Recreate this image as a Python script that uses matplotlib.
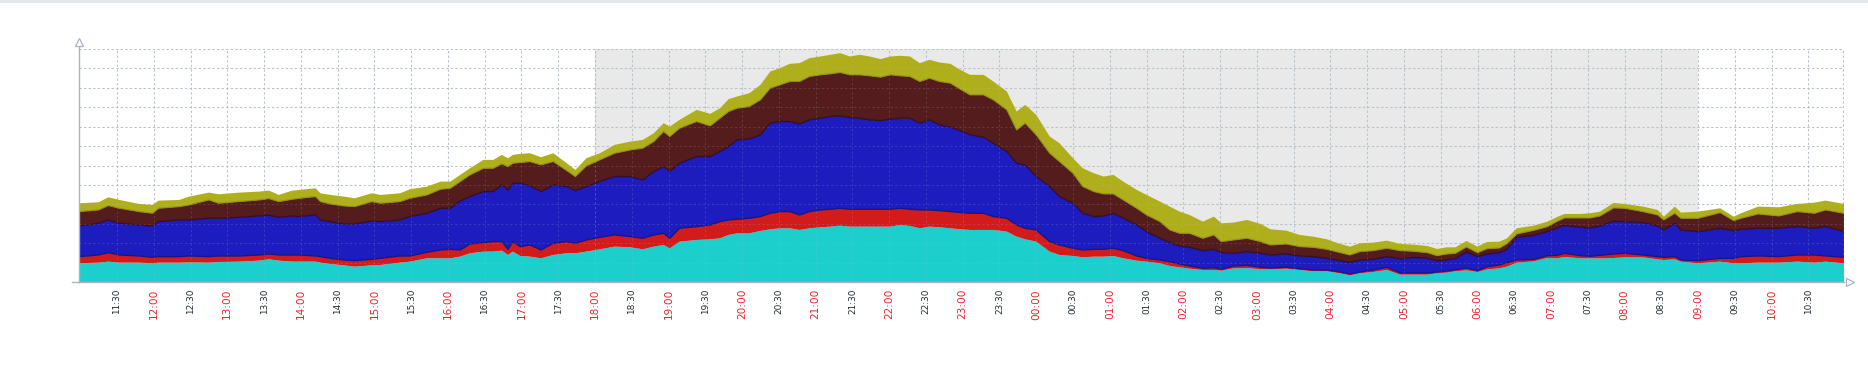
import numpy as np
import matplotlib
matplotlib.use("Agg")
import matplotlib.pyplot as plt
from matplotlib.patches import Rectangle

# time in minutes since midnight of day 1 (10:59 -> 10:59 next day)
minutes = [659, 675, 683, 692, 708, 719, 724, 741, 749, 765, 773, 790, 806, 814, 822, 833,
           839, 852, 856, 864, 875, 884, 898, 905, 921, 929, 943, 954, 962, 970, 978, 989,
           997, 1004, 1009, 1013, 1019, 1027, 1036, 1046, 1057, 1064, 1073, 1084, 1096, 1109,
           1119, 1128, 1136, 1141, 1149, 1163, 1174, 1182, 1189, 1196, 1206, 1215, 1223, 1231,
           1239, 1247, 1255, 1264, 1272, 1280, 1288, 1296, 1304, 1313, 1321, 1329, 1337, 1345,
           1353, 1361, 1370, 1378, 1386, 1397, 1405, 1416, 1424, 1431, 1440, 1451, 1459, 1470,
           1478, 1487, 1495, 1503, 1511, 1522, 1530, 1541, 1549, 1557, 1565, 1576, 1585, 1591,
           1601, 1612, 1623, 1631, 1644, 1655, 1666, 1677, 1688, 1696, 1704, 1715, 1726, 1737,
           1748, 1759, 1767, 1775, 1782, 1791, 1800, 1808, 1818, 1824, 1832, 1846, 1857, 1865,
           1871, 1884, 1892, 1900, 1911, 1920, 1935, 1947, 1952, 1961, 1966, 1980, 1998, 2009,
           2015, 2029, 2046, 2061, 2075, 2084, 2099]

cyan_vals = [56, 58, 61, 58, 58, 56, 58, 58, 59, 58, 60, 61, 64, 68, 64, 61,
             61, 61, 58, 54, 50, 46, 50, 51, 58, 61, 71, 71, 71, 76, 86, 91,
             91, 94, 81, 91, 78, 76, 71, 81, 86, 86, 91, 98, 106, 104,
             98, 106, 111, 101, 121, 126, 128, 131, 141, 146, 146, 153, 158, 161,
             161, 156, 161, 164, 166, 169, 166, 166, 166, 166, 166, 171, 168, 161,
             166, 164, 161, 158, 156, 156, 156, 151, 136, 128, 121, 91, 81, 78,
             74, 76, 76, 78, 71, 64, 61, 56, 48, 44, 40, 36, 36, 34,
             41, 42, 38, 38, 40, 36, 32, 32, 26, 20, 26, 30, 36, 22,
             22, 22, 26, 28, 32, 35, 30, 38, 41, 46, 58, 62, 72, 71,
             75, 71, 71, 71, 72, 74, 74, 68, 66, 68, 61, 56, 61, 56,
             56, 58, 58, 61, 58, 61, 56]

red_vals = [20, 23, 27, 23, 20, 18, 18, 18, 19, 18, 18, 17, 17, 16, 17, 20,
            20, 17, 18, 17, 16, 18, 18, 20, 20, 17, 18, 25, 27, 20, 28, 27,
            30, 27, 17, 30, 28, 35, 25, 35, 35, 30, 35, 36, 35, 32,
            33, 35, 35, 30, 40, 40, 43, 50, 45, 42, 45, 43, 48, 50,
            50, 45, 50, 52, 52, 52, 52, 52, 52, 52, 52, 50, 50, 55,
            50, 50, 50, 50, 50, 50, 40, 40, 35, 33, 35, 30, 30, 23,
            22, 22, 22, 23, 23, 14, 10, 10, 13, 10, 8, 5, 7, 4,
            7, 8, 6, 4, 4, 4, 4, 4, 4, 4, 4, 6, 8, 5,
            5, 5, 4, 5, 5, 7, 4, 8, 10, 12, 8, 6, 7, 9,
            11, 8, 6, 9, 12, 12, 7, 8, 8, 8, 5, 8, 10, 15,
            20, 20, 18, 20, 23, 17, 18]

blue_vals = [92, 95, 98, 95, 93, 94, 105, 110, 108, 115, 113, 116, 117, 116, 113, 117,
             115, 123, 110, 110, 108, 110, 115, 110, 108, 118, 117, 125, 123, 147, 142, 153,
             150, 170, 178, 175, 190, 177, 175, 175, 165, 158, 160, 167, 175, 180,
             175, 190, 200, 200, 195, 210, 205, 210, 220, 238, 238, 245, 270, 270,
             270, 273, 275, 275, 278, 277, 275, 273, 268, 266, 270, 270, 273, 260,
             270, 257, 253, 246, 235, 228, 220, 200, 185, 190, 160, 165, 145, 135,
             110, 98, 100, 105, 97, 93, 80, 65, 57, 54, 56, 53, 55, 50,
             38, 41, 42, 39, 40, 38, 40, 35, 34, 34, 36, 32, 32, 42,
             47, 44, 34, 33, 33, 48, 42, 38, 37, 40, 68, 72, 72, 82,
             84, 85, 85, 88, 98, 95, 97, 92, 82, 100, 90, 87, 90, 83,
             82, 83, 85, 85, 80, 88, 77]

brown_vals = [43, 40, 43, 45, 40, 38, 40, 40, 45, 55, 45, 47, 48, 50, 47, 50,
              55, 55, 55, 53, 54, 52, 58, 55, 55, 55, 55, 57, 60, 58, 65, 70,
              70, 63, 70, 60, 62, 73, 80, 70, 48, 42, 62, 65, 70, 80,
              95, 90, 105, 105, 105, 105, 92, 100, 105, 95, 97, 105, 105, 110,
              120, 127, 130, 130, 128, 130, 128, 130, 132, 130, 133, 127, 125, 125,
              125, 130, 132, 124, 120, 127, 130, 125, 100, 125, 125, 100, 105, 90,
              80, 75, 66, 58, 55, 50, 50, 50, 38, 38, 42, 37, 43, 33,
              40, 40, 35, 30, 30, 28, 28, 27, 24, 23, 25, 26, 25, 25,
              18, 17, 15, 18, 16, 15, 12, 16, 14, 17, 10, 15, 15, 20,
              22, 28, 30, 30, 40, 40, 33, 33, 30, 30, 35, 40, 47, 30,
              33, 43, 37, 45, 45, 50, 55]

olive_vals = [25, 23, 25, 25, 23, 25, 23, 20, 25, 22, 27, 27, 25, 24, 20, 26,
              25, 25, 25, 27, 28, 25, 25, 25, 25, 27, 25, 23, 20, 20, 20, 25,
              25, 27, 25, 25, 26, 25, 23, 25, 22, 20, 23, 20, 25, 25,
              25, 25, 25, 30, 25, 35, 36, 30, 37, 35, 40, 45, 50, 50,
              53, 55, 55, 55, 57, 58, 55, 60, 58, 54, 55, 60, 60, 55,
              55, 57, 58, 58, 60, 60, 55, 55, 55, 55, 60, 50, 55, 45,
              55, 55, 52, 57, 55, 55, 60, 60, 70, 65, 55, 50, 55, 55,
              52, 55, 53, 47, 40, 35, 32, 30, 26, 25, 25, 24, 23, 20,
              20, 20, 20, 20, 18, 18, 18, 20, 19, 16, 17, 14, 15, 13,
              12, 12, 14, 13, 15, 13, 15, 15, 10, 20, 17, 20, 13, 12,
              15, 22, 26, 23, 32, 28, 28]

tick_minutes = list(range(690, 2071, 30))
tick_labels = ["%02d:%02d" % ((m // 60) % 24, m % 60) for m in tick_minutes]

series_colors = ["#1ccfcd", "#d21c1c", "#1c1cbf", "#541c1c", "#afaf1c"]

W, H = 1868, 365
fig = plt.figure(figsize=(W / 100, H / 100), dpi=100)
fig.patch.set_facecolor("white")
fig.patches.append(Rectangle((0, 1 - 3 / H), 1, 3 / H, transform=fig.transFigure,
                             facecolor="#e3e6ea", edgecolor="none"))

x0, x1, ytop, ybot = 79, 1844, 49, 282
ax = fig.add_axes([x0 / W, (H - ybot) / H, (x1 - x0) / W, (ybot - ytop) / H])
ax.set_facecolor("white")

t = np.array(minutes, dtype=float)
stack = np.vstack([cyan_vals, red_vals, blue_vals, brown_vals, olive_vals]).astype(float)
ax.stackplot(t, stack, colors=series_colors, linewidth=0, zorder=2)
tops = np.cumsum(stack, axis=0)
ax.plot(t, tops[1], color="#16168a", lw=1.0, zorder=3)
ax.plot(t, tops[2], color="#3a0c28", lw=1.0, zorder=3)
ax.plot(t, tops[3], color="#8f8f14", lw=0.8, zorder=3)

xmin, xmax = 659, 2099
grid_step = 58.2
ax.set_xlim(xmin, xmax)
ax.set_ylim(0, 12 * grid_step)

# non-working time shading
ax.axvspan(1080, 1980, color="#e9e9e9", zorder=0, lw=0)

# grid: full strength behind the data, faint over it
def draw_grid(z, alpha):
    kw = dict(color="#b4c0ca", lw=0.75, dashes=(2.2, 2.2), zorder=z, alpha=alpha)
    for k in range(1, 13):
        ax.axhline(k * grid_step, **kw)
    for m in tick_minutes:
        ax.axvline(m, **kw)
    ax.axvline(1080, **kw)
    ax.axvline(xmax - 0.5, **kw)

draw_grid(1, 0.9)
draw_grid(4, 0.18)

for s in ["top", "right"]:
    ax.spines[s].set_visible(False)
for s in ["left", "bottom"]:
    ax.spines[s].set_color("#a9b5c0")
    ax.spines[s].set_linewidth(1.0)
    ax.spines[s].set_zorder(5)

ax.set_yticks([])
ax.set_xticks(tick_minutes)
ax.set_xticklabels(tick_labels, rotation=90, fontfamily="DejaVu Sans")
ax.tick_params(axis="x", length=0, pad=5)
for lbl, m in zip(ax.get_xticklabels(), tick_minutes):
    if m % 60 == 0:
        lbl.set_color("#e8282c")
        lbl.set_fontsize(7.6)
    else:
        lbl.set_color("#1f2c33")
        lbl.set_fontsize(6.4)

# axis arrows
ax.plot([0], [1.03], marker="^", ms=5.5, mfc="white", mec="#a9b5c0", mew=0.9,
        transform=ax.transAxes, clip_on=False, zorder=6)
ax.plot([0, 0], [1.0, 1.03], color="#a9b5c0", lw=1.0, transform=ax.transAxes, clip_on=False)
ax.plot([1.0035], [0], marker=">", ms=5.5, mfc="white", mec="#a9b5c0", mew=0.9,
        transform=ax.transAxes, clip_on=False, zorder=6)
ax.plot([-0.004, 0], [0, 0], color="#a9b5c0", lw=1.0, transform=ax.transAxes, clip_on=False)

fig.savefig("out.png", dpi=100)
